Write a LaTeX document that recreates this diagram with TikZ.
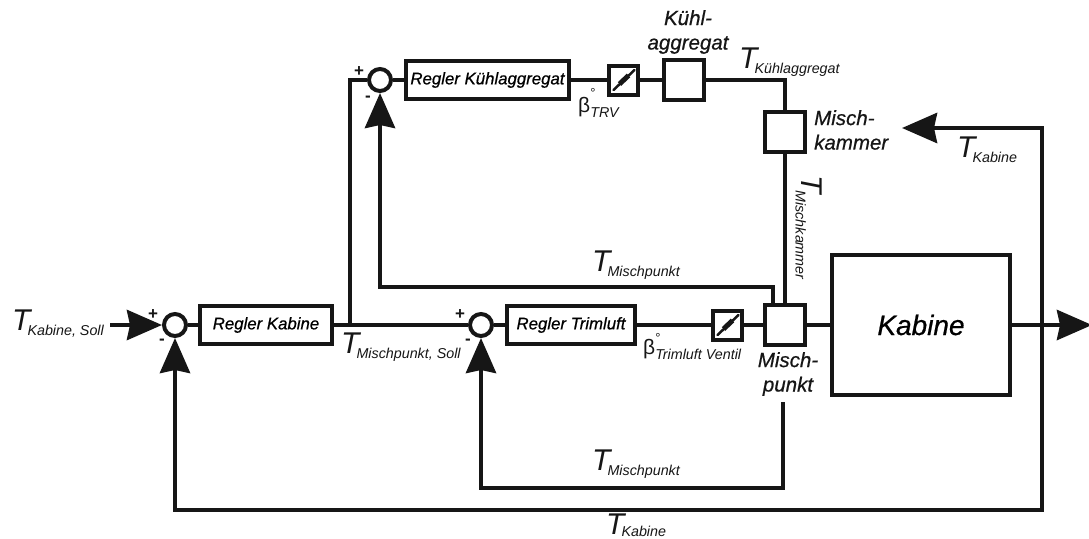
\documentclass[tikz,border=0pt]{standalone}
\usepackage{fontspec}
\setmainfont{Liberation Sans}
\newfontfamily\heavyfont[ItalicFeatures={FakeBold=0.6}]{Liberation Sans}
\usetikzlibrary{arrows.meta,positioning,calc}
\definecolor{ink}{RGB}{22,22,22}
\newcommand{\Tsig}[2][-5.5pt]{{\fontsize{30}{30}\selectfont\itshape T}\kern-3pt\raisebox{#1}{\fontsize{14.3}{15}\selectfont\itshape #2}}
\newcommand{\Bsig}[1]{{\fontsize{21}{21}\selectfont β}\raisebox{-5pt}{\fontsize{14.3}{15}\selectfont\itshape #1}}
\tikzset{
  blk/.style={draw=ink,line width=4pt,fill=white,minimum width=#1,minimum height=38pt,
              inner sep=0pt,font=\heavyfont\itshape\fontsize{16.8}{18}\selectfont},
  sqr/.style={draw=ink,line width=4pt,fill=white,minimum size=40pt,inner sep=0pt},
  vlv/.style={draw=ink,line width=4pt,fill=white,minimum size=29pt,inner sep=0pt},
  sumc/.style={draw=ink,line width=4pt,fill=white,circle,minimum size=22pt,inner sep=0pt},
  sig/.style={draw=ink,line width=4.5pt},
  arr/.style={sig,-{Stealth[length=35pt,width=30pt,inset=3pt]}},
  blade/.style={draw=ink,line width=2.5pt,line cap=round},
  tsig/.style={anchor=base west,inner sep=0pt,text=ink},
  capt/.style={align=center,inner sep=0pt,text=ink,
              font=\heavyfont\itshape\fontsize{20.5}{24.5}\selectfont},
  sgn/.style={inner sep=0pt,text=ink,font=\bfseries\fontsize{17}{17}\selectfont},
  ring/.style={inner sep=0pt,text=ink,font=\fontsize{13}{13}\selectfont},
}

\begin{document}
\begin{tikzpicture}[x=1pt,y=-1pt]
  \useasboundingbox (0,0) rectangle (1089,538);

  % lower row
  \node[sumc] at (175,325) (SK) {};
  \node[blk=132pt,right=10pt of SK] (RK) {Regler Kabine};
  \node[sumc,right=134pt of RK] (ST) {};
  \node[blk=128pt,right=11pt of ST] (RT) {Regler Trimluft};
  \node[vlv,right=74pt of RT] (VT) {};
  \node[sqr,right=19pt of VT] (MP) {};
  \node[sqr,above=149pt of MP] (MK) {};
  \node[draw=ink,line width=4pt,fill=white,minimum width=178pt,minimum height=140pt,
        inner sep=0pt,right=23pt of MP,font=\heavyfont\itshape\fontsize{28}{28}\selectfont] (KB) {Kabine};

  % upper row
  \node[sumc] at (380,80) (SA) {};
  \node[blk=163pt,right=11pt of SA] (RA) {Regler Kühlaggregat};
  \node[vlv,right=36pt of RA] (VA) {};
  \node[sqr,right=22pt of VA] (KA) {};

  % free ends
  \coordinate (In)    at (110,325);
  \coordinate (Out)   at (1092,325);
  \coordinate (BrK)   at (350,325);
  \coordinate (TapK)  at (1042,325);
  \coordinate (TopK)  at (1042,128);
  \coordinate (EndK)  at (902,128);
  \coordinate (BotK)  at (1042,510);
  \coordinate (TapO)  at (773,303);
  \coordinate (CorO)  at (773,287);
  \coordinate (TapU)  at (783,402);
  \coordinate (CorU)  at (783,488);

  \draw[sig] (SK) -- (RK);
  \draw[sig] (RK) -- (ST);
  \draw[sig] (ST) -- (RT);
  \draw[sig] (RT) -- (VT);
  \draw[sig] (VT) -- (MP);
  \draw[sig] (MP) -- (KB);
  \draw[sig] (MP) -- (MK);
  \draw[sig] (BrK) |- (SA);
  \draw[sig] (SA) -- (RA);
  \draw[sig] (RA) -- (VA);
  \draw[sig] (VA) -- (KA);
  \draw[sig] (KA) -| (MK);
  \draw[arr] (In) -- (SK);
  \draw[arr] (KB) -- (Out);
  \draw[arr] (TapK) -- (TopK) -- (EndK);
  \draw[arr] (TapK) -- (BotK) -| (SK);
  \draw[arr] (TapO) -- (CorO) -| (SA);
  \draw[arr] (TapU) -- (CorU) -| (ST);

  % valve blades
  \draw[blade] ($(VA.center)+(-10,10)$) -- ($(VA.center)+(11,-10)$);
  \draw[blade,line width=5pt,line cap=butt] ($(VA.center)+(-4,4)$) -- ($(VA.center)+(5,-4.5)$);
  \draw[blade] ($(VT.center)+(-10,10)$) -- ($(VT.center)+(11,-10)$);
  \draw[blade,line width=5pt,line cap=butt] ($(VT.center)+(-4,4)$) -- ($(VT.center)+(5,-4.5)$);

  % signs
  \node[sgn] at (153,315) (PK) {+};
  \node[sgn] at (162,342) (NK) {-};
  \node[sgn] at (359,72) (PA) {+};
  \node[sgn] at (368,99) (NA) {-};
  \node[sgn] at (460,315) (PT) {+};
  \node[sgn] at (468,342) (NT) {-};

  % captions
  \node[capt] at (688,32) (CKA) {Kühl-\\aggregat};
  \node[capt,align=left,anchor=west] at (814,130) (CMK) {Misch-\\kammer};
  \node[capt] at (788,374) (CMP) {Misch-\\punkt};

  % signals
  \node[tsig] at (12,330) (LS) {\Tsig{Kabine, Soll}};
  \node[tsig] at (341,353) (LMS) {\Tsig{Mischpunkt, Soll}};
  \node[tsig] at (739,68) (LKA) {\Tsig{Kühlaggregat}};
  \node[tsig] at (957,157) (LKO) {\Tsig{Kabine}};
  \node[tsig] at (592,271) (LMO) {\Tsig{Mischpunkt}};
  \node[tsig] at (592,470) (LMU) {\Tsig{Mischpunkt}};
  \node[tsig] at (606,534) (LKU) {\Tsig[-2.5pt]{Kabine}};
  \node[tsig,rotate=-90] at (801,175) (LMK) {\Tsig{Mischkammer}};
  \node[tsig] at (578,112) (LBA) {\Bsig{TRV}};
  \node[tsig] at (643,354) (LBT) {\Bsig{Trimluft Ventil}};
  \node[ring] at (593,93) (RBA) {°};
  \node[ring] at (658,338) (RBT) {°};
\end{tikzpicture}
\end{document}
